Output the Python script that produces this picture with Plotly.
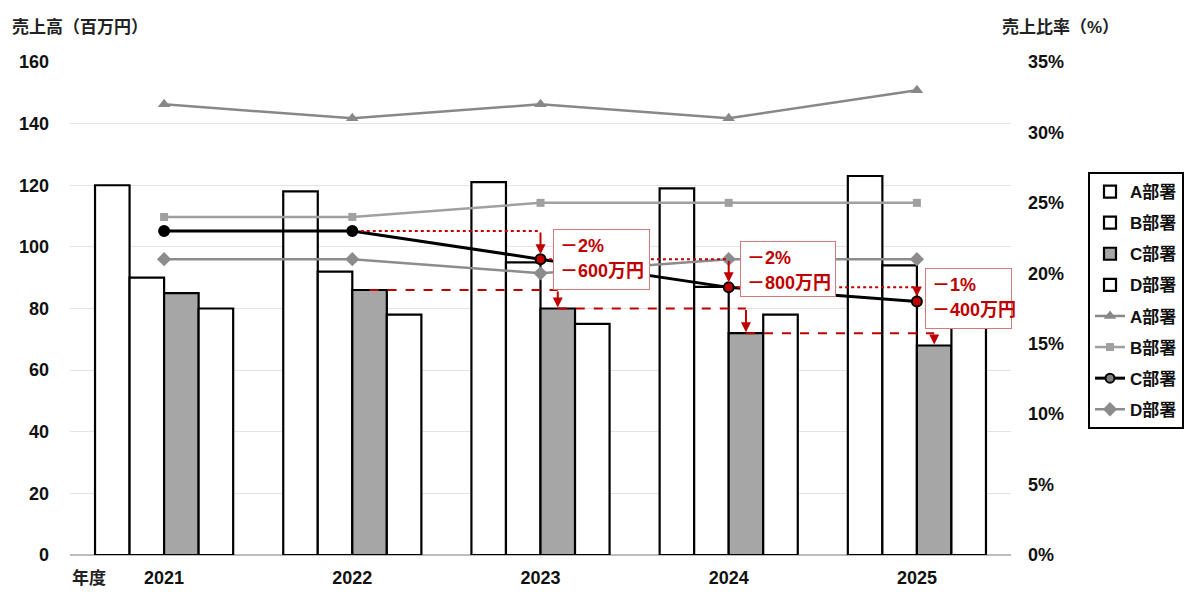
import plotly.graph_objects as go

# ---------------- data ----------------
years = ['2021', '2022', '2023', '2024', '2025']
depts = ['A部署', 'B部署', 'C部署', 'D部署']
sales_A = [120, 118, 121, 119, 123]
sales_B = [90, 92, 95, 87, 94]
sales_C = [85, 86, 80, 72, 68]
sales_D = [80, 78, 75, 78, 75]
ratio_A = [32, 31, 32, 31, 33]
ratio_B = [24, 24, 25, 25, 25]
ratio_C = [23, 23, 21, 19, 18]
ratio_D = [21, 21, 20, 21, 21]

left_title = '売上高（百万円）'
right_title = '売上比率（%）'
year_label = '年度'

# ---------------- style ----------------
FONT = 'Liberation Sans, Arial, Noto Sans CJK JP, sans-serif'
RED = '#c00000'
BOX_BORDER = '#d47a7a'
BAR_FILL = ['white', 'white', '#a6a6a6', 'white']
LINE_COL = {'A': '#888888', 'B': '#a0a0a0', 'D': '#8c8c8c'}
BARGAP = 0.266
bar_w = (1 - BARGAP) / 4
c_off = 0.5 * bar_w  # centre of the C bar relative to category centre

W, H = 1200, 600
ML, MR, MT, MB = 70, 189, 62, 45
PW, PH = W - ML - MR, H - MT - MB


def px_to_paper(px, py):
    return (px - ML) / PW, (H - MB - py) / PH


fig = go.Figure()
sales = [sales_A, sales_B, sales_C, sales_D]
for k, (name, vals) in enumerate(zip(depts, sales)):
    fig.add_trace(go.Bar(
        x=years, y=vals, name=name, legendgroup=f'bar{k}',
        marker=dict(color=BAR_FILL[k], line=dict(color='black', width=2.2)),
        yaxis='y'))

fig.add_trace(go.Scatter(x=years, y=ratio_A, name='A部署', legendgroup='lA',
                         mode='lines+markers', yaxis='y2',
                         line=dict(color=LINE_COL['A'], width=2.5),
                         marker=dict(symbol='triangle-up', size=11, color=LINE_COL['A'])))
fig.add_trace(go.Scatter(x=years, y=ratio_B, name='B部署', legendgroup='lB',
                         mode='lines+markers', yaxis='y2',
                         line=dict(color=LINE_COL['B'], width=2.5),
                         marker=dict(symbol='square', size=8, color=LINE_COL['B'])))
c_colors = ['black', 'black'] + [RED] * (len(years) - 2)
fig.add_trace(go.Scatter(x=years, y=ratio_C, name='C部署', legendgroup='lC',
                         mode='lines+markers', yaxis='y2', showlegend=False,
                         line=dict(color='black', width=3),
                         marker=dict(symbol='circle', size=10, color=c_colors,
                                     line=dict(color='black', width=2))))
fig.add_trace(go.Scatter(x=[None], y=[None], name='C部署', legendgroup='lC',
                         mode='lines+markers', yaxis='y2',
                         line=dict(color='black', width=3),
                         marker=dict(symbol='circle', size=9, color='#808080',
                                     line=dict(color='black', width=2))))
fig.add_trace(go.Scatter(x=years, y=ratio_D, name='D部署', legendgroup='lD',
                         mode='lines+markers', yaxis='y2',
                         line=dict(color=LINE_COL['D'], width=2.5),
                         marker=dict(symbol='diamond', size=11, color=LINE_COL['D'])))

# ---------------- change annotations for C ----------------
shapes = []
annos = []
box_up = [30, 46, 33]       # px the box top sits above the marker
box_w = [95, 94, 85]
box_h = [59, 54, 59]
box_dx = [12, 11, 8]
for n, i in enumerate(range(2, len(years))):
    p = i - 1
    # dotted guide at previous ratio level
    shapes.append(dict(type='line', xref='x', yref='y2', x0=p + 0.045, x1=i,
                       y0=ratio_C[p], y1=ratio_C[p], layer='above',
                       line=dict(color=RED, width=2, dash='dot')))
    annos.append(dict(x=i, y=ratio_C[i], xref='x', yref='y2', ax=i, ay=ratio_C[p],
                      axref='x', ayref='y2', showarrow=True, arrowhead=2, arrowsize=1,
                      arrowwidth=2, arrowcolor=RED, standoff=5, text=''))
    # dashed guide at previous C sales level
    shapes.append(dict(type='line', xref='x', yref='y', x0=p + c_off, x1=i + c_off,
                       y0=sales_C[p], y1=sales_C[p], layer='above',
                       line=dict(color=RED, width=2, dash='dash')))
    annos.append(dict(x=i + c_off, y=sales_C[i], xref='x', yref='y', ax=i + c_off,
                      ay=sales_C[p], axref='x', ayref='y', showarrow=True, arrowhead=2,
                      arrowsize=1, arrowwidth=2, arrowcolor=RED, standoff=1, text=''))
    # label box
    d_ratio = ratio_C[i] - ratio_C[p]
    d_sales = (sales_C[i] - sales_C[p]) * 100
    annos.append(dict(x=i, y=ratio_C[i], xref='x', yref='y2', xanchor='left', yanchor='top',
                      xshift=box_dx[n], yshift=box_up[n], text=' ', showarrow=False,
                      width=box_w[n], height=box_h[n], bgcolor='white',
                      bordercolor=BOX_BORDER, borderwidth=1, borderpad=0))
    line1 = ('－' if d_ratio < 0 else '＋') + f'{abs(d_ratio)}%'
    line2 = ('－' if d_sales < 0 else '＋') + f'{abs(d_sales)}万円'
    for txt, dy in ((line1, 17), (line2, 42)):
        annos.append(dict(x=i, y=ratio_C[i], xref='x', yref='y2', xanchor='left',
                          yanchor='middle', xshift=box_dx[n] + 5, yshift=box_up[n] - dy,
                          text=txt, showarrow=False,
                          font=dict(family=FONT, size=18, color=RED, weight='bold')))

for txt, (px, py), size in ((left_title, (10, 27), 17), (right_title, (1000, 27), 17),
                            (year_label, (70, 578), 17)):
    xp, yp = px_to_paper(px, py)
    annos.append(dict(x=xp, y=yp, xref='paper', yref='paper', xanchor='left',
                      yanchor='middle', text=txt, showarrow=False,
                      font=dict(family=FONT, size=size, color='#222', weight='bold')))

tickfont = dict(family=FONT, size=18, color='#111', weight='bold')
fig.update_layout(
    width=W, height=H,
    margin=dict(l=ML, r=MR, t=MT, b=MB, autoexpand=False),
    paper_bgcolor='white', plot_bgcolor='white',
    barmode='group', bargap=BARGAP, bargroupgap=0,
    font=dict(family=FONT),
    xaxis=dict(type='category', showgrid=False, ticks='', showline=False,
               automargin=False, range=[-0.5, len(years) - 0.5],
               tickfont=tickfont, ticklabelstandoff=10),
    yaxis=dict(range=[0, 160], dtick=20, showgrid=True, gridcolor='#e3e3e3',
               gridwidth=1, zeroline=True, zerolinecolor='#bdbdbd', zerolinewidth=2,
               automargin=False,
               showline=False, ticks='', tickfont=tickfont, ticklabelstandoff=20),
    yaxis2=dict(range=[0, 35], dtick=5, ticksuffix='%', overlaying='y', side='right',
                showgrid=False, zeroline=False, showline=False, ticks='',
                automargin=False,
                tickfont=tickfont, ticklabelstandoff=16),
    legend=dict(x=1088 / W, y=1 - 172 / H, xref='container', yref='container',
                xanchor='left', yanchor='top',
                bordercolor='black', borderwidth=2, bgcolor='white',
                font=dict(family=FONT, size=17, color='#111', weight='bold'),
                tracegroupgap=6, itemwidth=30),
    showlegend=True,
    shapes=shapes, annotations=annos,
)

fig.write_html('out.html')
